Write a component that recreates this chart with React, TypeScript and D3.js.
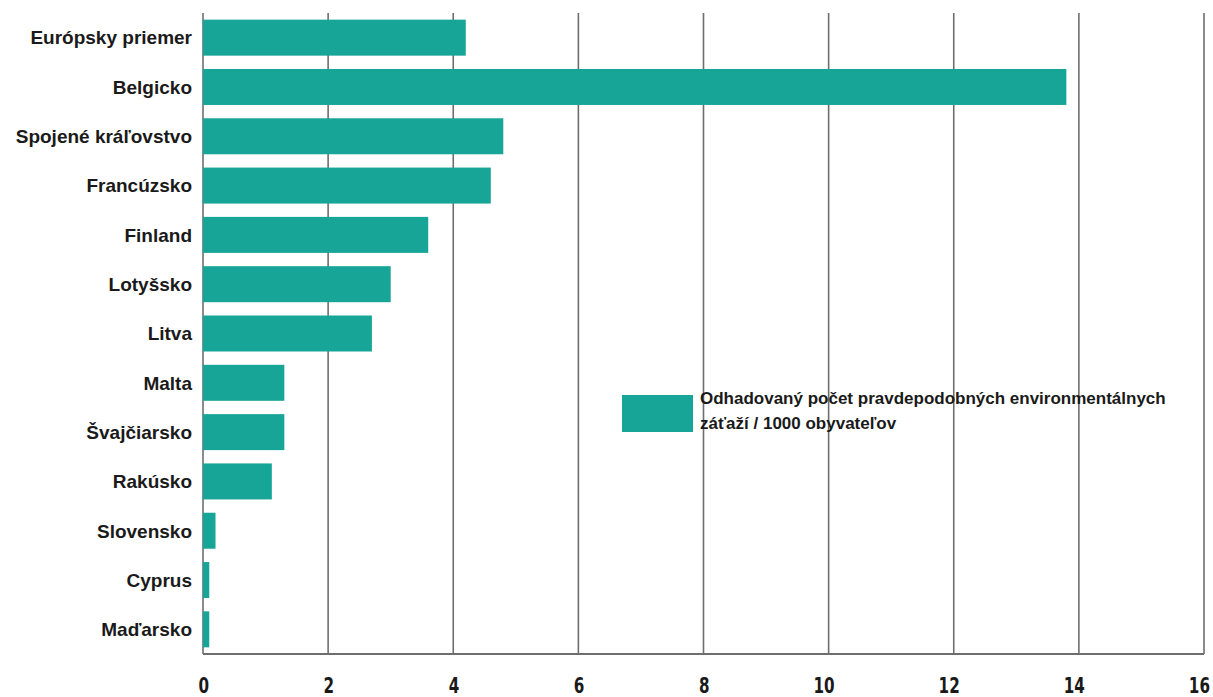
import React from "react";
import * as d3 from "d3";

const categories = [
  "Európsky priemer",
  "Belgicko",
  "Spojené kráľovstvo",
  "Francúzsko",
  "Finland",
  "Lotyšsko",
  "Litva",
  "Malta",
  "Švajčiarsko",
  "Rakúsko",
  "Slovensko",
  "Cyprus",
  "Maďarsko",
];
const values = [4.2, 13.8, 4.8, 4.6, 3.6, 3.0, 2.7, 1.3, 1.3, 1.1, 0.2, 0.1, 0.1];
const xTicks = [0, 2, 4, 6, 8, 10, 12, 14, 16];
const legendLines = ["Odhadovaný počet pravdepodobných environmentálnych", "záťaží / 1000 obyvateľov"];

const W = 1213;
const H = 697;
const left = 203;
const right = 1204;
const top = 13;
const bottom = 654;
const barColor = "#17a598";
const gridColor = "#6e6e6e";

export default function App() {
  const x = d3.scaleLinear().domain([0, 16]).range([left, right]);
  const y = d3
    .scaleBand<string>()
    .domain(categories)
    .range([top, bottom])
    .paddingInner(0.27)
    .paddingOuter(0.135);

  return (
    <svg width={W} height={H} style={{ position: "absolute", left: 0, top: 0, background: "#fff" }}>
      {xTicks.map((t) => (
        <line key={"g" + t} x1={x(t)} x2={x(t)} y1={top} y2={bottom} stroke={gridColor} strokeWidth={1.6} />
      ))}
      <line x1={left} x2={right} y1={bottom} y2={bottom} stroke={gridColor} strokeWidth={1.8} />
      {categories.map((c, i) => (
        <rect
          key={c}
          x={x(0)}
          y={y(c)!}
          width={x(values[i]) - x(0)}
          height={y.bandwidth()}
          fill={barColor}
        />
      ))}
      {categories.map((c) => (
        <text
          key={"l" + c}
          x={192}
          y={y(c)! + y.bandwidth() / 2}
          dy="0.36em"
          textAnchor="end"
          fontFamily="Liberation Sans, Arial, sans-serif"
          fontWeight="bold"
          fontSize={19}
          fill="#1a1a1a"
        >
          {c}
        </text>
      ))}
      {xTicks.map((t) => (
        <text
          key={"t" + t}
          transform={`translate(${x(t) + 6},693) scale(0.95,1.3)`}
          textAnchor="end"
          fontFamily="DejaVu Sans, sans-serif"
          fontWeight="bold"
          fontSize={16}
          fill="#1a1a1a"
        >
          {t}
        </text>
      ))}
      <rect x={622} y={395} width={71} height={37} fill={barColor} />
      {legendLines.map((l, i) => (
        <text
          key={"lg" + i}
          x={700}
          y={404 + i * 25}
          fontFamily="Liberation Sans, Arial, sans-serif"
          fontWeight="bold"
          fontSize={17}
          fill="#1a1a1a"
        >
          {l}
        </text>
      ))}
    </svg>
  );
}
